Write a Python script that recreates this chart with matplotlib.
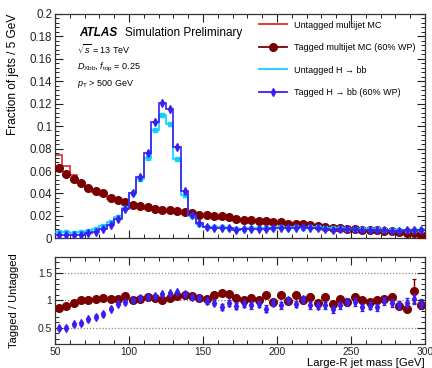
import numpy as np
import matplotlib
matplotlib.use("Agg")
import matplotlib.pyplot as plt
from matplotlib.ticker import MultipleLocator, FuncFormatter
from matplotlib.lines import Line2D

plt.rcParams['font.family'] = ['Liberation Sans', 'DejaVu Sans']
plt.rcParams['mathtext.fontset'] = 'custom'
plt.rcParams['mathtext.rm'] = 'Liberation Sans'
plt.rcParams['mathtext.it'] = 'Liberation Sans:italic'
plt.rcParams['mathtext.bf'] = 'Liberation Sans:bold'

# ---------------- data ----------------
edges = np.arange(50, 305, 5)

mj_untagged = [0.0745, 0.0645, 0.0560, 0.0494, 0.0450, 0.0415, 0.0386, 0.0348, 0.0330, 0.0303,
               0.0295, 0.0280, 0.0265, 0.0253, 0.0248, 0.0238, 0.0228, 0.0218, 0.0206, 0.0202,
               0.0198, 0.0185, 0.0172, 0.0170, 0.0162, 0.0160, 0.0153, 0.0151, 0.0140, 0.0148,
               0.0137, 0.0133, 0.0117, 0.0124, 0.0114, 0.0110, 0.0100, 0.0100, 0.0087, 0.0088,
               0.0077, 0.0077, 0.0073, 0.0071, 0.0064, 0.0058, 0.0060, 0.0057, 0.0040, 0.0034]

mj_tagged = [0.0628, 0.0577, 0.0533, 0.0494, 0.0450, 0.0423, 0.0405, 0.0355, 0.0340, 0.0327,
             0.0295, 0.0286, 0.0280, 0.0265, 0.0250, 0.0250, 0.0246, 0.0235, 0.0222, 0.0212,
             0.0205, 0.0200, 0.0195, 0.0190, 0.0170, 0.0161, 0.0160, 0.0152, 0.0152, 0.0146,
             0.0148, 0.0131, 0.0127, 0.0126, 0.0122, 0.0107, 0.0105, 0.0095, 0.0088, 0.0086,
             0.0081, 0.0077, 0.0071, 0.0071, 0.0065, 0.0061, 0.0054, 0.0048, 0.0046, 0.0031]

mj_tagged_err = [0.0008, 0.0008, 0.0007, 0.0007, 0.0007, 0.0006, 0.0006, 0.0006, 0.0006, 0.0006,
                 0.0005, 0.0005, 0.0005, 0.0005, 0.0005, 0.0005, 0.0005, 0.0005, 0.0005, 0.0005,
                 0.0005, 0.0005, 0.0005, 0.0005, 0.0005, 0.0005, 0.0005, 0.0005, 0.0005, 0.0005,
                 0.0005, 0.0005, 0.0005, 0.0005, 0.0005, 0.0005, 0.0005, 0.0005, 0.0005, 0.0005,
                 0.0005, 0.0005, 0.0005, 0.0005, 0.0005, 0.0005, 0.0005, 0.0005, 0.0009, 0.0005]

hbb_untagged = [0.0055, 0.0054, 0.0050, 0.0052, 0.0069, 0.0081, 0.0113, 0.0141, 0.0186, 0.0273,
                0.0400, 0.0529, 0.0717, 0.0962, 0.1095, 0.1022, 0.0705, 0.0385, 0.0198, 0.0128,
                0.0099, 0.0097, 0.0100, 0.0092, 0.0086, 0.0087, 0.0088, 0.0092, 0.0094, 0.0092,
                0.0101, 0.0095, 0.0102, 0.0096, 0.0099, 0.0102, 0.0088, 0.0088, 0.0088, 0.0085,
                0.0082, 0.0083, 0.0084, 0.0080, 0.0078, 0.0072, 0.0075, 0.0075, 0.0074, 0.0074]

hbb_tagged = [0.0027, 0.0027, 0.0028, 0.0030, 0.0045, 0.0057, 0.0085, 0.0120, 0.0175, 0.0265,
              0.0400, 0.0550, 0.0760, 0.1040, 0.1210, 0.1150, 0.0810, 0.0425, 0.0210, 0.0134,
              0.0098, 0.0093, 0.0088, 0.0088, 0.0078, 0.0082, 0.0080, 0.0086, 0.0080, 0.0088,
              0.0092, 0.0095, 0.0095, 0.0098, 0.0090, 0.0092, 0.0080, 0.0074, 0.0080, 0.0082,
              0.0080, 0.0072, 0.0076, 0.0070, 0.0077, 0.0068, 0.0068, 0.0072, 0.0075, 0.0070]

hbb_tagged_err = [0.0009, 0.0009, 0.0009, 0.0009, 0.0010, 0.0010, 0.0011, 0.0012, 0.0013, 0.0014,
                  0.0015, 0.0016, 0.0018, 0.0020, 0.0022, 0.0021, 0.0018, 0.0014, 0.0011, 0.0010,
                  0.0009, 0.0009, 0.0009, 0.0009, 0.0009, 0.0009, 0.0009, 0.0009, 0.0009, 0.0009,
                  0.0009, 0.0009, 0.0009, 0.0009, 0.0009, 0.0009, 0.0009, 0.0009, 0.0009, 0.0009,
                  0.0009, 0.0009, 0.0009, 0.0009, 0.0009, 0.0009, 0.0009, 0.0009, 0.0009, 0.0009]

ratio_mj = [0.855, 0.90, 0.96, 1.00, 1.00, 1.02, 1.05, 1.02, 1.03, 1.08,
            1.00, 1.02, 1.07, 1.05, 1.00, 1.05, 1.08, 1.09, 1.08, 1.05,
            1.03, 1.09, 1.14, 1.11, 1.05, 1.00, 1.05, 1.00, 1.10, 0.97,
            1.09, 0.98, 1.10, 1.00, 1.07, 0.96, 1.06, 0.93, 1.02, 0.97,
            1.07, 1.00, 0.97, 1.00, 1.02, 1.06, 0.90, 0.84, 1.17, 0.91]

ratio_mj_err = [0.010, 0.010, 0.010, 0.010, 0.010, 0.012, 0.012, 0.012, 0.015, 0.015,
                0.015, 0.015, 0.018, 0.018, 0.020, 0.020, 0.020, 0.022, 0.025, 0.025,
                0.025, 0.028, 0.030, 0.030, 0.030, 0.030, 0.035, 0.035, 0.035, 0.035,
                0.035, 0.040, 0.040, 0.040, 0.040, 0.040, 0.045, 0.045, 0.045, 0.045,
                0.050, 0.050, 0.050, 0.050, 0.055, 0.060, 0.060, 0.060, 0.220, 0.070]

ratio_hbb = [0.49, 0.50, 0.56, 0.58, 0.65, 0.70, 0.75, 0.85, 0.94, 0.97,
             1.00, 1.04, 1.06, 1.08, 1.11, 1.13, 1.15, 1.11, 1.06, 1.05,
             0.99, 0.96, 0.88, 0.96, 0.89, 0.94, 0.91, 0.93, 0.85, 0.96,
             0.91, 1.00, 0.93, 1.02, 0.91, 0.90, 0.91, 0.84, 0.91, 0.97,
             0.97, 0.87, 0.90, 0.87, 0.99, 0.95, 0.91, 0.96, 1.02, 0.94]

ratio_hbb_err = [0.030, 0.030, 0.030, 0.030, 0.030, 0.030, 0.030, 0.030, 0.030, 0.030,
                 0.025, 0.025, 0.025, 0.025, 0.025, 0.025, 0.025, 0.030, 0.035, 0.040,
                 0.050, 0.050, 0.055, 0.055, 0.055, 0.060, 0.060, 0.060, 0.060, 0.060,
                 0.060, 0.060, 0.060, 0.060, 0.060, 0.065, 0.065, 0.065, 0.065, 0.065,
                 0.065, 0.065, 0.065, 0.070, 0.070, 0.070, 0.070, 0.075, 0.090, 0.080]

xticks_main = [50, 100, 150, 200, 250, 300]

# ---------------- style ----------------
c_red = '#e02a2a'
c_maroon = '#7a0000'
c_cyan = '#10cfff'
c_blue = '#3a1ff0'

centers = 0.5 * (edges[:-1] + edges[1:])

fig = plt.figure(figsize=(4.32, 3.68), dpi=100)
ax1 = fig.add_axes([55/432, 1-238.3/368, 370/432, 224.3/368])
ax2 = fig.add_axes([55/432, 1-344/368, 370/432, 87.3/368])

def gfmt(v, pos):
    return ('%g' % round(v, 4))

for ax in (ax1, ax2):
    ax.tick_params(which='both', direction='in', top=True, right=True, colors='#222222')
    ax.tick_params(which='major', length=6, width=0.8)
    ax.tick_params(which='minor', length=3, width=0.7)
    for s in ax.spines.values():
        s.set_color('#333333')
        s.set_linewidth(0.9)
    ax.set_xlim(50, 300)
    ax.xaxis.set_major_locator(MultipleLocator(50))
    ax.xaxis.set_minor_locator(MultipleLocator(10))

# ---- top panel ----
ax1.stairs(mj_untagged, edges, color=c_red, lw=1.2, baseline=None, zorder=2)
ax1.errorbar(centers, mj_tagged, yerr=mj_tagged_err, fmt='o', color=c_maroon, ms=5.5,
             elinewidth=0.9, capsize=0, zorder=3)
ax1.stairs(hbb_untagged, edges, color=c_cyan, lw=1.2, baseline=None, zorder=4)
ax1.plot(centers, hbb_untagged, 's', color=c_cyan, ms=2.2, zorder=4)
ax1.stairs(hbb_tagged, edges, color=c_blue, lw=1.2, baseline=None, zorder=5)
ax1.errorbar(centers, hbb_tagged, yerr=hbb_tagged_err, fmt='d', color=c_blue, ms=4.2,
             elinewidth=1.0, capsize=0, zorder=6)

ax1.set_ylim(0, 0.2)
ax1.yaxis.set_major_locator(MultipleLocator(0.02))
ax1.yaxis.set_minor_locator(MultipleLocator(0.004))
ax1.yaxis.set_major_formatter(FuncFormatter(gfmt))
ax1.tick_params(axis='y', labelsize=8.3, pad=2)
ax1.tick_params(axis='x', labelbottom=False)
ax1.set_ylabel('Fraction of jets / 5 GeV', fontsize=8.6, loc='top')
ax1.yaxis.set_label_coords(-0.097, 1.0)

ax1.text(0.065, 0.902, 'ATLAS', transform=ax1.transAxes, fontsize=8.5,
         fontweight='bold', fontstyle='italic', va='baseline', ha='left')
ax1.text(0.189, 0.902, 'Simulation Preliminary', transform=ax1.transAxes, fontsize=8.5,
         va='baseline', ha='left')
ax1.text(0.059, 0.823, r'$\sqrt{s}$ = 13 TeV', transform=ax1.transAxes, fontsize=6.5,
         va='baseline', ha='left')
ax1.text(0.059, 0.754, r'$D_{\mathrm{Xbb}}$, $f_{\mathrm{top}}$ = 0.25', transform=ax1.transAxes,
         fontsize=6.5, va='baseline', ha='left')
ax1.text(0.059, 0.679, r'$p_{\mathrm{T}}$ > 500 GeV', transform=ax1.transAxes, fontsize=6.5,
         va='baseline', ha='left')

handles = [
    Line2D([], [], color=c_red, lw=1.3),
    Line2D([], [], color=c_maroon, lw=1.3, marker='o', ms=5.5),
    Line2D([], [], color=c_cyan, lw=1.3),
    Line2D([], [], color=c_blue, lw=1.3, marker='d', ms=4.2),
]
labels = ['Untagged multijet MC', 'Tagged multijet MC (60% WP)',
          'Untagged H \u2192 bb', 'Tagged H \u2192 bb (60% WP)']
ax1.legend(handles, labels, loc='upper left', bbox_to_anchor=(259/432, 1-20.5/368),
           bbox_transform=fig.transFigure, frameon=False, fontsize=6.5,
           handlelength=3.1, handletextpad=0.8, labelspacing=1.5,
           borderpad=0, borderaxespad=0)

# ---- ratio panel ----
for yv in (0.5, 1.0, 1.5):
    ax2.axhline(yv, color='#888888', ls=(0, (1, 1.5)), lw=0.9, zorder=1)
ax2.errorbar(centers, ratio_hbb, yerr=ratio_hbb_err, fmt='d', color=c_blue, ms=4.2,
             elinewidth=1.0, capsize=1.5, capthick=0.9, zorder=3)
ax2.errorbar(centers, ratio_mj, yerr=ratio_mj_err, fmt='o', color=c_maroon, ms=5.5,
             elinewidth=1.0, capsize=1.5, capthick=0.9, zorder=2)
ax2.set_ylim(0.2, 1.8)
ax2.set_yticks([0.5, 1.0, 1.5])
ax2.yaxis.set_major_formatter(FuncFormatter(gfmt))
ax2.yaxis.set_minor_locator(MultipleLocator(0.1))
ax2.set_xticks(xticks_main)
ax2.tick_params(axis='x', labelsize=7.4, pad=2)
ax2.tick_params(axis='y', labelsize=7.4, pad=2)
ax2.set_ylabel('Tagged / Untagged', fontsize=8.0)
ax2.yaxis.set_label_coords(-0.097, 0.5)
ax2.set_xlabel('Large-R jet mass [GeV]', fontsize=8.1, loc='right')
ax2.xaxis.set_label_coords(1.0, -0.165)

fig.savefig('out.png', dpi=100)
